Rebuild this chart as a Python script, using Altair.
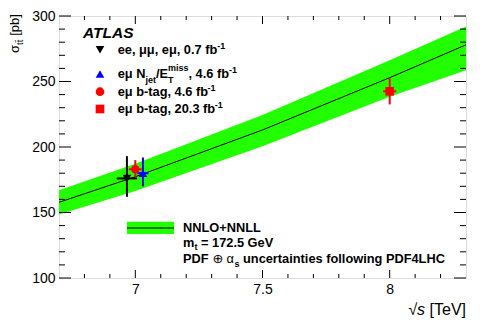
import altair as alt
import pandas as pd

# ---------------- data ----------------
band_sqrt_s = [6.7, 7.0, 7.5, 8.0, 8.3]
band_center = [157.8, 177.3, 213.0, 252.9, 278.0]
band_upper = [167.0, 187.3, 224.5, 266.2, 292.0]
band_lower = [148.5, 166.5, 200.5, 238.4, 258.5]

meas_labels = ["ee, μμ, eμ, 0.7 fb-1", "eμ Njet/ETmiss, 4.6 fb-1",
               "eμ b-tag, 4.6 fb-1", "eμ b-tag, 20.3 fb-1"]
meas_sqrt_s = [6.967, 7.03, 7.0, 8.0]
meas_xsec = [176.0, 180.0, 183.0, 242.5]
meas_err_up = [17.0, 12.0, 7.0, 10.0]
meas_err_dn = [14.0, 10.0, 7.0, 10.0]
meas_xerr = [0.04, 0.022, 0.025, 0.026]
meas_colors = ["#000000", "#0000ff", "#ff0000", "#ff0000"]
meas_shapes = ["triangle-down", "triangle-up", "circle", "square"]

x_major = [7.0, 7.5, 8.0]
x_minor = [6.8, 6.9, 7.1, 7.2, 7.3, 7.4, 7.6, 7.7, 7.8, 7.9, 8.1, 8.2]
y_major = [100, 150, 200, 250, 300]
y_minor = [110, 120, 130, 140, 160, 170, 180, 190, 210, 220, 230, 240,
           260, 270, 280, 290]

W, H = 407, 262
GREEN = "#22ff00"
FONT = "Liberation Sans"

band = pd.DataFrame({"s": band_sqrt_s, "c": band_center,
                     "lo": band_lower, "hi": band_upper})
meas = pd.DataFrame({"label": meas_labels, "s": meas_sqrt_s, "v": meas_xsec})
meas["ylo"] = [v - e for v, e in zip(meas_xsec, meas_err_dn)]
meas["yhi"] = [v + e for v, e in zip(meas_xsec, meas_err_up)]
meas["xlo"] = [s - e for s, e in zip(meas_sqrt_s, meas_xerr)]
meas["xhi"] = [s + e for s, e in zip(meas_sqrt_s, meas_xerr)]

xs = alt.Scale(domain=[6.7, 8.3], nice=False, zero=False)
ys = alt.Scale(domain=[100, 300], nice=False, zero=False)
xaxis = alt.Axis(values=x_major, format="~g", title=None, ticks=False,
                 domain=False, grid=False, labelFont=FONT, labelFontSize=14,
                 labelColor="black", labelPadding=4)
yaxis = alt.Axis(values=y_major, format="d", title=None, ticks=False,
                 domain=False, grid=False, labelFont=FONT, labelFontSize=14,
                 labelColor="black", labelPadding=4)


def X(f):
    return alt.X(f, type="quantitative", scale=xs, axis=xaxis)


def Y(f):
    return alt.Y(f, type="quantitative", scale=ys, axis=yaxis)


col = alt.Color("label:N", scale=alt.Scale(domain=meas_labels, range=meas_colors), legend=None)
shp = alt.Shape("label:N", scale=alt.Scale(domain=meas_labels, range=meas_shapes), legend=None)

layers = []
layers.append(alt.Chart(band).mark_area(color=GREEN, opacity=1).encode(
    x=X("s"), y=Y("lo"), y2="hi"))
layers.append(alt.Chart(band).mark_line(color="black", strokeWidth=1).encode(
    x=X("s"), y=Y("c")))
layers.append(alt.Chart(meas).mark_rule(strokeWidth=2).encode(
    x=X("s"), y=Y("ylo"), y2="yhi", color=col))
layers.append(alt.Chart(meas).mark_rule(strokeWidth=2).encode(
    x=X("xlo"), x2="xhi", y=Y("v"), color=col))
layers.append(alt.Chart(meas).mark_point(filled=True, size=75, opacity=1).encode(
    x=X("s"), y=Y("v"), color=col, shape=shp))


# inward ticks
def vticks(vals, length):
    d = pd.DataFrame({"t": vals})
    left = alt.Chart(d).mark_rule(color="black", strokeWidth=1).encode(
        y=Y("t"), x=alt.value(0), x2=alt.value(length))
    right = alt.Chart(d).mark_rule(color="black", strokeWidth=1).encode(
        y=Y("t"), x=alt.value(W - length), x2=alt.value(W))
    return [left, right]


def hticks(vals, length):
    d = pd.DataFrame({"t": vals})
    bot = alt.Chart(d).mark_rule(color="black", strokeWidth=1).encode(
        x=X("t"), y=alt.value(H - length), y2=alt.value(H))
    top = alt.Chart(d).mark_rule(color="black", strokeWidth=1).encode(
        x=X("t"), y=alt.value(0), y2=alt.value(length))
    return [bot, top]


layers += vticks(y_major, 12) + vticks(y_minor, 6)
layers += hticks(x_major, 8) + hticks(x_minor, 4)


def txt(s, x, y, size=12.8, weight="bold", style="normal", align="left",
        angle=0, font=FONT):
    return alt.Chart(pd.DataFrame({"t": [s]})).mark_text(
        align=align, baseline="alphabetic", fontSize=size, fontWeight=weight,
        fontStyle=style, font=font, angle=angle, color="black").encode(
        x=alt.value(x), y=alt.value(y), text="t:N")


def marker(shape, color, x, y):
    return alt.Chart(pd.DataFrame({"t": [0]})).mark_point(
        shape=shape, filled=True, size=75, opacity=1, color=color).encode(
        x=alt.value(x), y=alt.value(y))


# upper legend
layers.append(txt("ATLAS", 24, 22, size=15.5, style="italic"))
row_base = [38.0, 62.3, 80.0, 97.3]
for i in range(4):
    layers.append(marker(meas_shapes[i], meas_colors[i], 41, row_base[i] - 4.3))
# row 1
layers.append(txt("ee, μμ, eμ, 0.7 fb", 58.7, row_base[0]))
layers.append(txt("-1", 158.3, row_base[0] - 5.5, size=9))
# row 2
layers.append(txt("eμ N", 58.7, row_base[1]))
layers.append(txt("jet", 86.4, row_base[1] + 4.5, size=9))
layers.append(txt("/E", 96.9, row_base[1]))
layers.append(txt("miss", 109.0, row_base[1] - 7, size=9))
layers.append(txt("T", 109.0, row_base[1] + 4.5, size=9))
layers.append(txt(", 4.6 fb", 129.5, row_base[1]))
layers.append(txt("-1", 170.1, row_base[1] - 5.5, size=9))
# row 3
layers.append(txt("eμ b-tag, 4.6 fb", 58.7, row_base[2]))
layers.append(txt("-1", 148.6, row_base[2] - 5.5, size=9))
# row 4
layers.append(txt("eμ b-tag, 20.3 fb", 58.7, row_base[3]))
layers.append(txt("-1", 155.7, row_base[3] - 5.5, size=9))

# lower legend
one = pd.DataFrame({"t": [0]})
layers.append(alt.Chart(one).mark_rect(color=GREEN).encode(
    x=alt.value(68), x2=alt.value(115), y=alt.value(205.7), y2=alt.value(218)))
layers.append(alt.Chart(one).mark_rule(color="black", strokeWidth=1).encode(
    x=alt.value(68), x2=alt.value(115), y=alt.value(212)))
layers.append(txt("NNLO+NNLL", 124, 215.7))
layers.append(txt("m", 124, 230.7))
layers.append(txt("t", 135.4, 234.2, size=9))
layers.append(txt("= 172.5 GeV", 142.0, 230.7))
layers.append(txt("PDF", 124, 247.3))
layers.append(txt("⊕", 153.4, 247.3, weight="normal", font="DejaVu Sans"))
layers.append(txt("α", 167.6, 247.3, weight="normal"))
layers.append(txt("s", 175.4, 250.8, size=9))
layers.append(txt("uncertainties following PDF4LHC", 184.0, 247.3))

# axis titles
layers.append(txt("[TeV]", W, 299, size=16, weight="normal", align="right"))
layers.append(txt("s", 366.0, 299, size=16, weight="normal", style="italic", align="right"))
layers.append(txt("√", 358.2, 299, size=16, weight="normal", align="right"))

layers.append(txt("σ", -40, 37, size=13, weight="normal", angle=270))
layers.append(txt("tt̄", -36.5, 29.0, size=9.5, weight="normal", angle=270))
layers.append(txt("[pb]", -40, 19.8, size=13, weight="normal", angle=270))

chart = alt.layer(*layers).properties(
    width=W, height=H,
    padding={"left": 51, "top": 8, "right": 17, "bottom": 46},
    autosize=alt.AutoSizeParams(type="none"),
).configure_view(stroke="black", strokeWidth=1).configure(background="white")

chart.save("out.html", embed_options={"renderer": "svg", "actions": False})
